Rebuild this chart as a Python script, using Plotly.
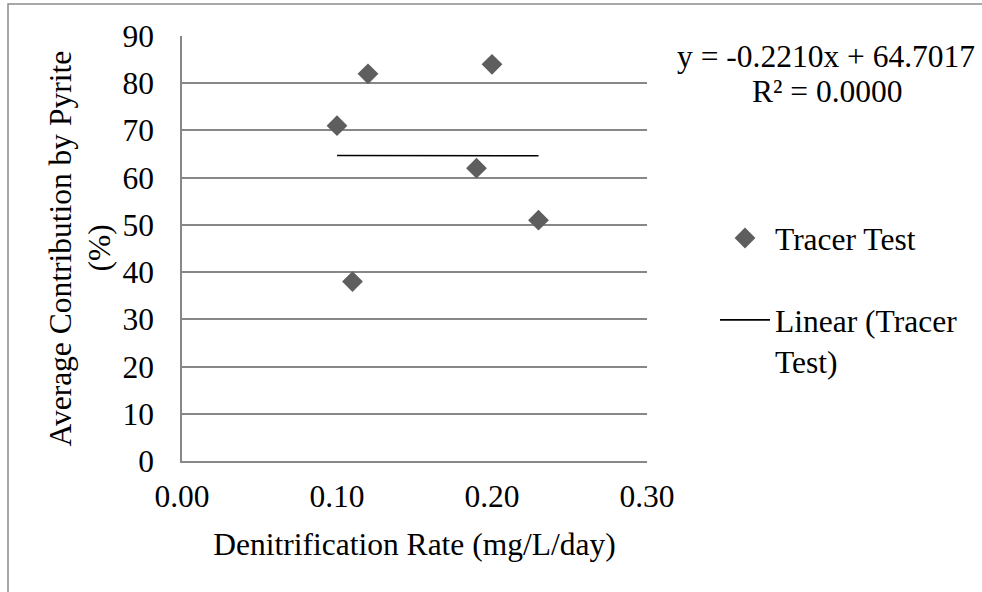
import plotly.graph_objects as go

# ---- data ----
rate = [0.10, 0.11, 0.12, 0.19, 0.20, 0.23]          # Denitrification Rate (mg/L/day)
pyrite = [71, 38, 82, 62, 84, 51]                     # Average Contribution by Pyrite (%)
trend_x = [0.10, 0.23]
trend_y = [64.68, 64.65]
x_ticks = [0.00, 0.10, 0.20, 0.30]
y_ticks = [0, 10, 20, 30, 40, 50, 60, 70, 80, 90]
equation = "y = -0.2210x + 64.7017"
r_squared = "R² = 0.0000"
series_name = "Tracer Test"
trend_name = "Linear (Tracer<br>Test)"

FONT = "Liberation Serif, Times New Roman, serif"
FS = 31.5
GRID = "#878787"

fig = go.Figure()
fig.add_trace(go.Scatter(
    x=rate, y=pyrite, mode="markers", name=series_name, legendgroup="a",
    marker=dict(symbol="diamond", size=16, color="#5e5e5e", line=dict(width=0)),
))
fig.add_trace(go.Scatter(
    x=trend_x, y=trend_y, mode="lines", name=trend_name, legendgroup="b",
    line=dict(color="black", width=1.6),
))

fig.update_layout(
    width=982, height=592, autosize=False,
    margin=dict(l=182, r=335, t=36, b=131, pad=0),
    paper_bgcolor="white", plot_bgcolor="white",
    font=dict(family=FONT, size=FS, color="black"),
    showlegend=True,
    legend=dict(
        x=(715 - 182) / 465, xanchor="left",
        y=(461 - 211) / 425, yanchor="top",
        font=dict(family=FONT, size=FS, color="black"),
        bgcolor="rgba(0,0,0,0)", borderwidth=0,
        traceorder="grouped", tracegroupgap=38, valign="top",
        itemwidth=50,
    ),
)

fig.update_xaxes(
    range=[0, 0.3], tickvals=x_ticks, tickformat=".2f",
    showgrid=False, zeroline=False, showline=True, linecolor=GRID, linewidth=1.5,
    ticks="", ticklabelstandoff=6,
    title=dict(text="Denitrification Rate (mg/L/day)", standoff=20,
               font=dict(family=FONT, size=FS, color="black")),
    automargin=False, fixedrange=True,
)
fig.update_yaxes(
    range=[0, 90], tickvals=y_ticks,
    showgrid=True, gridcolor=GRID, gridwidth=1.5,
    zeroline=False, showline=True, linecolor=GRID, linewidth=1.5,
    ticks="", ticklabelstandoff=20,
    automargin=False, fixedrange=True,
)

# y-axis title (two lines)
fig.add_annotation(text="Average Contribution by Pyrite", textangle=-90,
                   xref="paper", yref="paper", x=(60 - 182) / 465, y=0.5,
                   xanchor="center", yanchor="middle", showarrow=False,
                   font=dict(family=FONT, size=FS, color="black"))
fig.add_annotation(text="(%)", textangle=-90,
                   xref="paper", yref="paper", x=(99 - 182) / 465, y=0.5,
                   xanchor="center", yanchor="middle", showarrow=False,
                   font=dict(family=FONT, size=FS, color="black"))

# trendline equation
fig.add_annotation(text=equation, xref="paper", yref="paper",
                   x=(826 - 182) / 465, y=(461 - 56) / 425,
                   xanchor="center", yanchor="middle", showarrow=False,
                   font=dict(family=FONT, size=FS, color="black"))
fig.add_annotation(text=r_squared, xref="paper", yref="paper",
                   x=(827 - 182) / 465, y=(461 - 91) / 425,
                   xanchor="center", yanchor="middle", showarrow=False,
                   font=dict(family=FONT, size=FS, color="black"))

# chart-area border
fig.add_shape(type="rect", xref="paper", yref="paper",
              x0=(8 - 182) / 465, x1=(1000 - 182) / 465,
              y0=(461 - 620) / 425, y1=(461 - 4) / 425,
              line=dict(color="#8c8c8c", width=1.5), fillcolor="rgba(0,0,0,0)")

fig.write_html("out.html", config={"displayModeBar": False},
               post_script="document.body.style.margin='0';document.body.style.overflow='hidden';")
